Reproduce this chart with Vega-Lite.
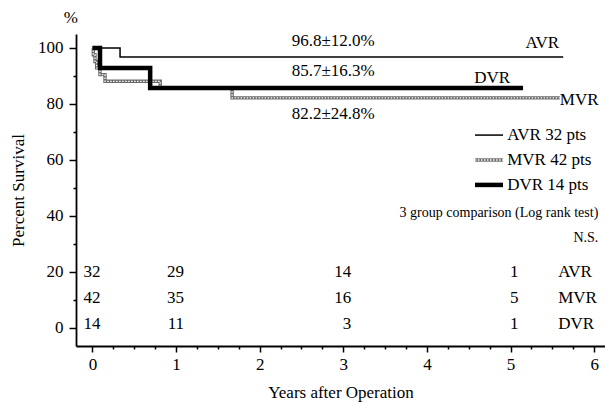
{
  "$schema": "https://vega.github.io/schema/vega-lite/v6.json",
  "width": 529,
  "height": 312,
  "autosize": {"type": "none"},
  "padding": {"left": 76, "top": 34, "right": 0, "bottom": 57},
  "background": "white",
  "config": {"view": {"stroke": null}, "font": "Liberation Serif"},
  "datasets": {
    "curves": [
      {"group": "AVR", "seg": "curve", "t": 0, "s": 100},
      {"group": "AVR", "seg": "curve", "t": 0.33, "s": 96.8},
      {"group": "AVR", "seg": "curve", "t": 5.63, "s": 96.8},
      {"group": "AVR", "seg": "key", "t": 4.575, "s": 68.9},
      {"group": "AVR", "seg": "key", "t": 4.91, "s": 68.9},
      {"group": "DVR", "seg": "curve", "t": 0, "s": 100},
      {"group": "DVR", "seg": "curve", "t": 0.09, "s": 92.9},
      {"group": "DVR", "seg": "curve", "t": 0.69, "s": 85.7},
      {"group": "DVR", "seg": "curve", "t": 5.15, "s": 85.7},
      {"group": "DVR", "seg": "key", "t": 4.575, "s": 51.1},
      {"group": "DVR", "seg": "key", "t": 4.91, "s": 51.1},
      {"group": "MVR", "seg": "curve", "t": 0, "s": 100},
      {"group": "MVR", "seg": "curve", "t": 0.01, "s": 97.6},
      {"group": "MVR", "seg": "curve", "t": 0.03, "s": 95.2},
      {"group": "MVR", "seg": "curve", "t": 0.05, "s": 92.9},
      {"group": "MVR", "seg": "curve", "t": 0.09, "s": 90.5},
      {"group": "MVR", "seg": "curve", "t": 0.15, "s": 88.1},
      {"group": "MVR", "seg": "curve", "t": 0.81, "s": 85.7},
      {"group": "MVR", "seg": "curve", "t": 1.67, "s": 82.2},
      {"group": "MVR", "seg": "curve", "t": 5.59, "s": 82.2},
      {"group": "MVR", "seg": "key", "t": 4.575, "s": 60},
      {"group": "MVR", "seg": "key", "t": 4.91, "s": 60}
    ],
    "centerText": [
      {"label": "96.8±12.0%", "t": 2.88, "s": 102.5},
      {"label": "85.7±16.3%", "t": 2.88, "s": 91.8},
      {"label": "82.2±24.8%", "t": 2.88, "s": 76.4},
      {"label": "AVR", "t": 5.38, "s": 101.8},
      {"label": "DVR", "t": 4.78, "s": 89.3},
      {"label": "%", "t": -0.26, "s": 110.7}
    ],
    "leftText": [
      {"label": "AVR 32 pts", "t": 4.96, "s": 68.9},
      {"label": "MVR 42 pts", "t": 4.96, "s": 60},
      {"label": "DVR 14 pts", "t": 4.96, "s": 51.1},
      {"label": "AVR", "t": 5.57, "s": 20},
      {"label": "MVR", "t": 5.57, "s": 10.7},
      {"label": "DVR", "t": 5.57, "s": 1.5},
      {"label": "MVR", "t": 5.59, "s": 81.4}
    ],
    "risk": [
      {"group": "AVR", "t": 0, "s": 20, "n": 32},
      {"group": "AVR", "t": 1, "s": 20, "n": 29},
      {"group": "AVR", "t": 3, "s": 20, "n": 14},
      {"group": "AVR", "t": 5, "s": 20, "n": 1},
      {"group": "MVR", "t": 0, "s": 10.7, "n": 42},
      {"group": "MVR", "t": 1, "s": 10.7, "n": 35},
      {"group": "MVR", "t": 3, "s": 10.7, "n": 16},
      {"group": "MVR", "t": 5, "s": 10.7, "n": 5},
      {"group": "DVR", "t": 0, "s": 1.5, "n": 14},
      {"group": "DVR", "t": 1, "s": 1.5, "n": 11},
      {"group": "DVR", "t": 3, "s": 1.5, "n": 3},
      {"group": "DVR", "t": 5, "s": 1.5, "n": 1}
    ],
    "note": [
      {"label": "3 group comparison (Log rank test)", "t": 6.05, "s": 41.1},
      {"label": "N.S.", "t": 6.05, "s": 32.1}
    ]
  },
  "encoding": {
    "x": {
      "field": "t", "type": "quantitative",
      "scale": {"domain": [-0.197, 6.13], "nice": false, "zero": false},
      "axis": {
        "values": [0,0.25,0.5,0.75,1,1.25,1.5,1.75,2,2.25,2.5,2.75,3,3.25,3.5,3.75,4,4.25,4.5,4.75,5,5.25,5.5,5.75,6],
        "labelExpr": "datum.value % 1 === 0 ? format(datum.value, 'd') : ''",
        "tickSize": {"condition": {"test": "datum.value % 1 === 0", "value": 6}, "value": 3},
        "tickColor": "black", "tickWidth": 1.5,
        "domainColor": "black", "domainWidth": 1.8,
        "grid": false, "labelOverlap": false, "labelFlush": false,
        "labelFont": "Liberation Serif", "labelFontSize": 17, "labelColor": "black", "labelPadding": 4,
        "title": "Years after Operation", "titleFont": "Liberation Serif", "titleFontSize": 17,
        "titleFontWeight": "normal", "titleColor": "black", "titlePadding": 12
      }
    },
    "y": {
      "field": "s", "type": "quantitative",
      "scale": {"domain": [-6.43, 105], "nice": false, "zero": false},
      "axis": {
        "values": [0,10,20,30,40,50,60,70,80,90,100],
        "labelExpr": "datum.value % 20 === 0 ? format(datum.value, 'd') : ''",
        "tickSize": {"condition": {"test": "datum.value % 20 === 0", "value": 7}, "value": 3},
        "tickColor": "black", "tickWidth": 1.5,
        "domainColor": "black", "domainWidth": 1.8,
        "grid": false, "labelOverlap": false, "labelFlush": false,
        "labelFont": "Liberation Serif", "labelFontSize": 17, "labelColor": "black", "labelPadding": 6,
        "title": "Percent Survival", "titleFont": "Liberation Serif", "titleFontSize": 17,
        "titleFontWeight": "normal", "titleColor": "black", "titlePadding": 10
      }
    }
  },
  "layer": [
    {
      "data": {"name": "curves"},
      "transform": [{"filter": "datum.group === 'AVR'"}],
      "mark": {"type": "line", "interpolate": "step-after", "stroke": "black", "strokeWidth": 1.5},
      "encoding": {"detail": {"field": "seg"}}
    },
    {
      "data": {"name": "curves"},
      "transform": [{"filter": "datum.group === 'MVR'"}],
      "mark": {"type": "line", "interpolate": "step-after", "stroke": "#6a6a6a", "strokeWidth": 3.4},
      "encoding": {"detail": {"field": "seg"}}
    },
    {
      "data": {"name": "curves"},
      "transform": [{"filter": "datum.group === 'MVR'"}],
      "mark": {"type": "line", "interpolate": "step-after", "stroke": "white", "strokeWidth": 1.3, "strokeDash": [1.5, 1.5]},
      "encoding": {"detail": {"field": "seg"}}
    },
    {
      "data": {"name": "curves"},
      "transform": [{"filter": "datum.group === 'DVR'"}],
      "mark": {"type": "line", "interpolate": "step-after", "stroke": "black", "strokeWidth": 4.5},
      "encoding": {"detail": {"field": "seg"}}
    },
    {
      "data": {"name": "centerText"},
      "mark": {"type": "text", "align": "center", "baseline": "middle", "font": "Liberation Serif", "fontSize": 17, "color": "black"},
      "encoding": {"text": {"field": "label"}}
    },
    {
      "data": {"name": "leftText"},
      "mark": {"type": "text", "align": "left", "baseline": "middle", "font": "Liberation Serif", "fontSize": 17, "color": "black"},
      "encoding": {"text": {"field": "label"}}
    },
    {
      "data": {"name": "risk"},
      "mark": {"type": "text", "align": "right", "baseline": "middle", "dx": 8, "font": "Liberation Serif", "fontSize": 17, "color": "black"},
      "encoding": {"text": {"field": "n"}}
    },
    {
      "data": {"name": "note"},
      "mark": {"type": "text", "align": "right", "baseline": "middle", "font": "Liberation Serif", "fontSize": 14, "color": "black"},
      "encoding": {"text": {"field": "label"}}
    }
  ]
}
